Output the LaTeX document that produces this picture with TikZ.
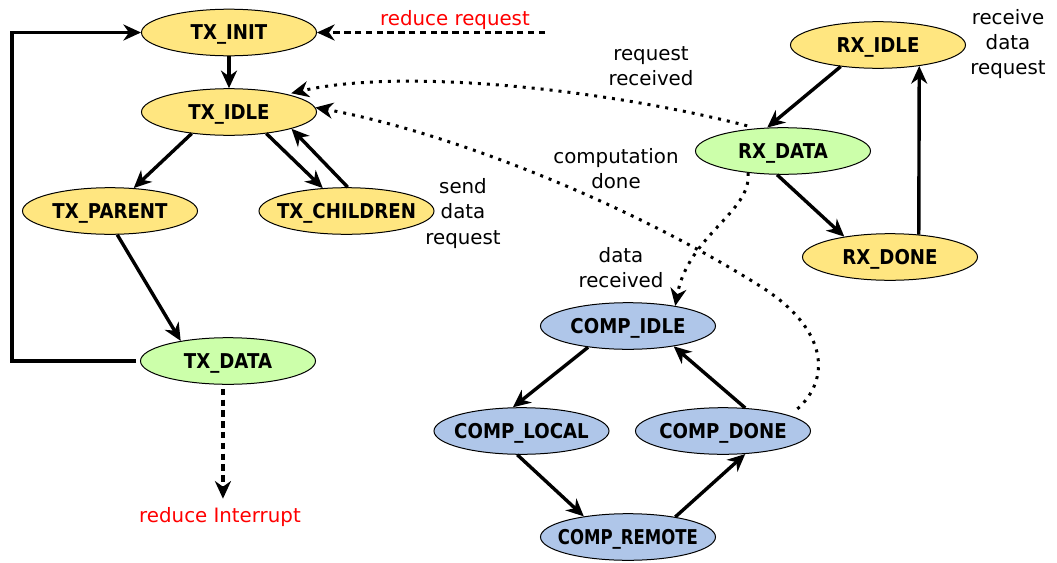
\documentclass[tikz,border=0pt]{standalone}
\usepackage{fontspec}
\setmainfont{DejaVu Sans}
\usetikzlibrary{arrows.meta,shapes.geometric}
\definecolor{styellow}{HTML}{FFE680}
\definecolor{stgreen}{HTML}{CCFFAA}
\definecolor{stblue}{HTML}{AFC6E9}
\newcommand{\stxt}[2][0.89]{\makebox[0pt]{\scalebox{#1}[1]{#2}}}
\begin{document}
\begin{tikzpicture}[x=0.5pt,y=-0.5pt,
  state/.style={ellipse, draw=black, line width=0.5pt, minimum width=87.5pt,
    minimum height=23.3pt, inner sep=0pt,
    font=\fontsize{10.2}{11}\selectfont\bfseries, text height=7.4pt, text depth=0pt},
  ystate/.style={state, fill=styellow},
  gstate/.style={state, fill=stgreen},
  bstate/.style={state, fill=stblue},
  arr/.style={line width=1.7pt, -{Stealth[length=8.8pt,width=8pt,inset=2.8pt]}},
  dasharr/.style={arr, dash pattern=on 3.2pt off 2.2pt},
  dotarr/.style={arr, line width=1.5pt, dash pattern=on 1.5pt off 3pt},
  lbl/.style={font=\fontsize{9.9}{12.6}\selectfont, align=center, inner sep=0pt},
  redlbl/.style={lbl, text=red}
]
\useasboundingbox (0,0) rectangle (1057,563);

% states
\node[ystate] (txinit) at (229,32.5) {\stxt{TX\_INIT}};
\node[ystate] (txidle) at (229,112) {\stxt{TX\_IDLE}};
\node[ystate] (txparent) at (110,211) {\stxt{TX\_PARENT}};
\node[ystate] (txchildren) at (346.5,211) {\stxt{TX\_CHILDREN}};
\node[gstate] (txdata) at (228,361) {\stxt{TX\_DATA}};
\node[ystate] (rxidle) at (878,45) {\stxt{RX\_IDLE}};
\node[gstate] (rxdata) at (783,151) {\stxt{RX\_DATA}};
\node[ystate] (rxdone) at (890,257) {\stxt{RX\_DONE}};
\node[bstate] (compidle) at (628,326) {\stxt{COMP\_IDLE}};
\node[bstate] (complocal) at (521.5,431) {\stxt{COMP\_LOCAL}};
\node[bstate] (compdone) at (723,431) {\stxt{COMP\_DONE}};
\node[bstate] (compremote) at (628,537) {\stxt[0.81]{COMP\_REMOTE}};

% labels
\node[lbl] (lreqrec) at (651,66) {request\\received};
\node[lbl] (lcomp) at (616,168.5) {computation\\done};
\node[lbl] (ldatarec) at (621,267.5) {data\\received};
\node[lbl] (lsend) at (463,213.5) {send\\data\\request};
\node[lbl] (lrecv) at (1008,44) {receive\\data\\request};
\node[redlbl] (lrr) at (455,20) {reduce request};
\node[redlbl] (lri) at (220,517.5) {reduce Interrupt};

\coordinate (rrstart) at (545,32.5);
\coordinate (loopb) at (12,361);
\coordinate (bjoint) at (760,286);

% TX side
\draw[arr] (txinit.south) -- (txidle.north);
\draw[arr] (txidle.210) -- (txparent.44);
\draw[arr] (txidle.-30) -- (txchildren.136);
\draw[arr] (txchildren.87) -- (txidle.-15);
\draw[arr] (txparent.-73) -- (txdata.157);
\draw[arr, shorten <=2pt] (txdata.west) -- (loopb) |- (txinit.west);
\draw[dasharr] (rrstart) -- (txinit.east);
\draw[dasharr, shorten <=2pt, shorten >=4.4pt] (txdata.-102) -- (txdata.-102 |- lri.north);

% RX side
\draw[arr] (rxidle.210) -- (rxdata.124);
\draw[arr] (rxdata.-104) -- (rxdone.156);
\draw[arr] (rxdone.38.3) -- (rxidle.-27.4);

% COMP side
\draw[arr] (compidle.208.6) -- (complocal.110);
\draw[arr] (complocal.-100.6) -- (compremote.155.7);
\draw[arr] (compremote.23) -- (compdone.-46.3);
\draw[arr] (compdone.46.4) -- (compidle.-24);

% dotted interactions
\draw[dotarr, shorten <=5pt, shorten >=2pt] (rxdata.139) .. controls (600,88) and (400,68) .. (txidle.17);
\draw[dotarr, shorten <=5pt] (compdone.13) .. controls (830,380) and (830,330) .. (bjoint)
   .. controls (620,198) and (440,130) .. (txidle.3);
\draw[dotarr] (rxdata.212) .. controls (752,212) and (688,235) .. (compidle.23);
\end{tikzpicture}
\end{document}
